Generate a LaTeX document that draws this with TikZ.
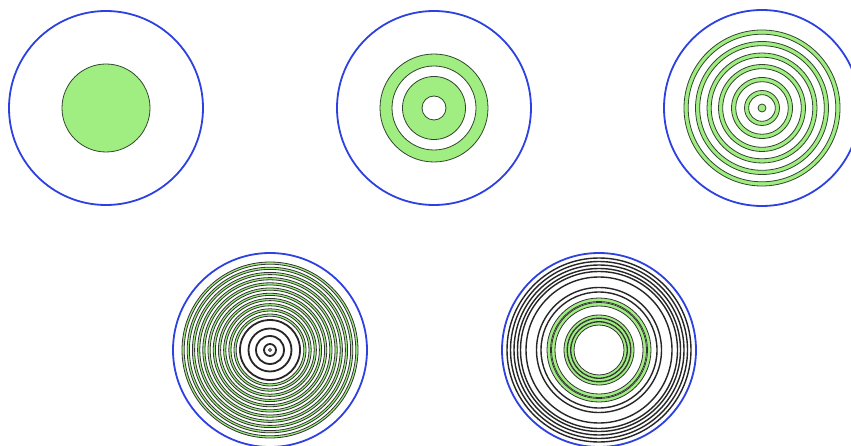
\documentclass[tikz,border=0pt]{standalone}

\definecolor{vertclair}{RGB}{160,238,130}
\definecolor{bleucadre}{RGB}{45,65,225}
\definecolor{traitvert}{RGB}{50,70,45}

\tikzset{
  cadre/.style={draw=bleucadre, line width=1.8pt},
  zone/.style={fill=vertclair, even odd rule},
  bord/.style={draw=traitvert, line width=0.8pt},
  noir/.style={draw=black!85, line width=1.4pt},
  fin/.style={draw=black!80, line width=0.8pt},
}

\begin{document}
\begin{tikzpicture}[x=1pt,y=-1pt]

\clip (0,0) rectangle (851,446);
\fill[white] (0,0) rectangle (851,446);

% Cercle 1 : disque plein
\coordinate (c1) at (106,108);
\draw[cadre] (c1) circle (97);
\filldraw[fill=vertclair, bord] (c1) circle (44);

% Cercle 2 : deux anneaux
\coordinate (c2) at (434,108);
\draw[cadre] (c2) circle (97);
\fill[zone] (c2) circle (54) circle (42);
\fill[zone] (c2) circle (31.5) circle (12);
\foreach \r in {54,42,31.5,12} {
    \draw[bord] (c2) circle (\r);
}

% Cercle 3 : six anneaux fins
\coordinate (c3) at (762,108);
\draw[cadre] (c3) circle (98);
\foreach \r in {78,66.5,55,43.5,30.5,17.5} {
    \fill[zone] (c3) circle (\r) circle (\r-4.2);
    \draw[bord] (c3) circle (\r);
    \draw[bord] (c3) circle (\r-4.2);
}
\filldraw[fill=vertclair, bord] (c3) circle (4);

% Cercle 4 : anneaux serres
\coordinate (c4) at (270,350);
\draw[cadre] (c4) circle (97);
\foreach \r in {88,82.8,...,35} {
    \fill[zone] (c4) circle (\r) circle (\r-2.2);
    \draw[fin] (c4) circle (\r);
    \draw[fin] (c4) circle (\r-2.2);
}
\foreach \r in {30,21.5,14,6} {
    \draw[noir, line width=1.8pt] (c4) circle (\r);
}
\draw[fin] (c4) circle (1.5);

% Cercle 5 : anneaux noirs et deux groupes verts
\coordinate (c5) at (599,350);
\draw[cadre] (c5) circle (97);
\foreach \r in {92,88.5,85,81.5,78.5,73,62.5,58} {
    \draw[noir] (c5) circle (\r);
}
\foreach \r in {52,47.5} {
    \fill[zone] (c5) circle (\r) circle (\r-3.5);
    \draw[fin] (c5) circle (\r);
    \draw[fin] (c5) circle (\r-3.5);
}
\foreach \r in {35,31.5,28} {
    \fill[zone] (c5) circle (\r) circle (\r-3);
    \draw[fin] (c5) circle (\r);
    \draw[fin] (c5) circle (\r-3);
}

\end{tikzpicture}
\end{document}
